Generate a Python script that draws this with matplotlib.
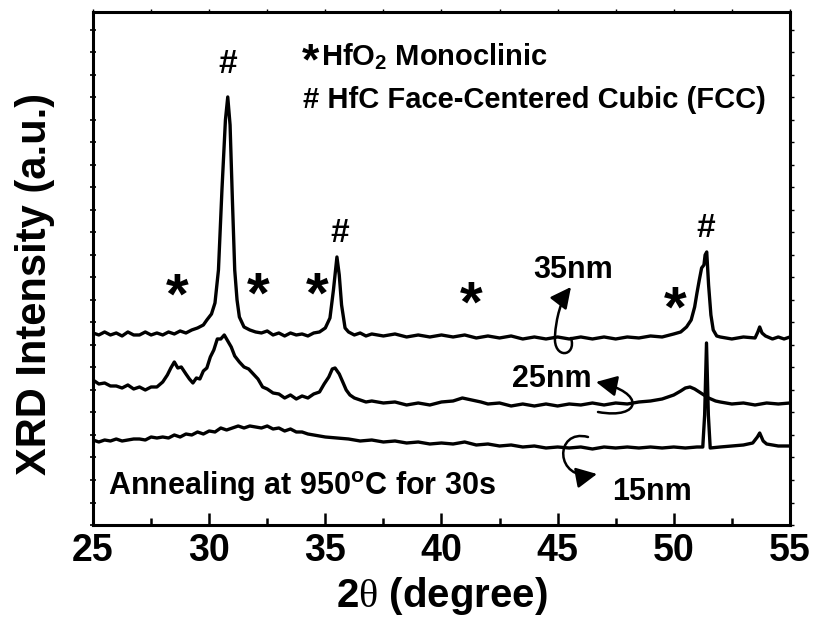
import matplotlib
matplotlib.use("Agg")
import matplotlib.pyplot as plt
from matplotlib.path import Path
from matplotlib.patches import FancyArrowPatch
from matplotlib.ticker import MultipleLocator

plt.rcParams["font.family"] = ["Liberation Sans", "DejaVu Sans"]
plt.rcParams["font.weight"] = "bold"
plt.rcParams["axes.labelweight"] = "bold"
plt.rcParams["mathtext.fontset"] = "custom"
plt.rcParams["mathtext.rm"] = "Liberation Sans:bold"
plt.rcParams["mathtext.bf"] = "Liberation Sans:bold"
plt.rcParams["mathtext.it"] = "Liberation Sans:bold:italic"
plt.rcParams["mathtext.sf"] = "Liberation Serif:normal"

# ---- XRD patterns (2theta in degree, intensity in a.u., stacked) ----
tt_35 = [25.0, 25.25, 25.5, 25.75, 26.0, 26.25, 26.5, 26.75, 27.0, 27.25, 27.5, 27.75,
         28.0, 28.25, 28.5, 28.75, 29.0, 29.25, 29.5, 29.75, 29.9, 30.1, 30.25, 30.4,
         30.55, 30.7, 30.8, 30.9, 31.0, 31.1, 31.2, 31.3, 31.5, 31.75, 32.0, 32.25,
         32.5, 32.75, 33.0, 33.25, 33.5, 33.75, 34.0, 34.25, 34.5, 34.75, 35.0, 35.2,
         35.35, 35.5, 35.6, 35.7, 35.85, 36.0, 36.25, 36.5, 36.75, 37.0, 37.5, 38.0,
         38.5, 39.0, 39.5, 40.0, 40.5, 41.0, 41.5, 42.0, 42.5, 43.0, 43.5, 44.0, 44.5,
         45.0, 45.5, 46.0, 46.5, 47.0, 47.5, 48.0, 48.5, 49.0, 49.5, 50.0, 50.3, 50.55,
         50.75, 50.9, 51.0, 51.1, 51.2, 51.3, 51.35, 51.42, 51.5, 51.6, 51.7, 51.85,
         52.0, 52.5, 53.0, 53.5, 53.62, 53.7, 53.8, 53.95, 54.25, 54.5, 54.75, 55.0]
int_35 = [192, 190, 193, 190, 192, 189, 193, 190, 190, 193, 190, 192,
          190, 193, 191, 194, 192, 195, 197, 200, 205, 211, 222, 255,
          335, 405, 428, 400, 325, 255, 225, 208, 198, 195, 193, 192,
          194, 190, 192, 189, 192, 190, 191, 189, 192, 193, 197, 207,
          235, 268, 250, 220, 197, 193, 190, 192, 189, 191, 189, 191,
          188, 190, 188, 190, 188, 190, 187, 189, 187, 189, 186, 188, 186,
          188, 186, 188, 186, 188, 186, 188, 187, 189, 188, 191, 193, 198,
          205, 218, 232, 245, 257, 260, 270, 273, 240, 210, 195, 189,
          188, 186, 188, 187, 193, 198, 192, 189, 186, 188, 186, 188]

tt_25 = [25.0, 25.25, 25.5, 25.75, 26.0, 26.25, 26.5, 26.75, 27.0, 27.25, 27.5, 27.75,
         28.0, 28.2, 28.35, 28.5, 28.65, 28.8, 29.0, 29.15, 29.3, 29.45, 29.6, 29.75,
         29.9, 30.05, 30.2, 30.35, 30.5, 30.65, 30.8, 30.95, 31.1, 31.3, 31.5, 31.7,
         31.9, 32.1, 32.3, 32.5, 32.75, 33.0, 33.25, 33.5, 33.75, 34.0, 34.25, 34.5,
         34.75, 34.95, 35.15, 35.3, 35.42, 35.6, 35.77, 35.9, 36.06, 36.25, 36.5, 36.75,
         37.0, 37.5, 38.0, 38.5, 39.0, 39.5, 40.0, 40.5, 40.9, 41.3, 41.7, 42.0, 42.5,
         43.0, 43.5, 44.0, 44.5, 45.0, 45.5, 46.0, 46.5, 47.0, 47.5, 48.0, 48.5, 49.0,
         49.5, 50.0, 50.3, 50.5, 50.7, 50.9, 51.1, 51.3, 51.5, 51.8, 52.0, 52.5, 53.0,
         53.5, 54.0, 54.5, 55.0]
int_25 = [145, 141, 142, 139, 139, 137, 140, 136, 138, 135, 138, 138,
          143, 150, 157, 163, 157, 158, 151, 146, 142, 147, 146, 154,
          157, 168, 175, 186, 186, 190, 184, 178, 169, 163, 158, 156,
          151, 146, 138, 136, 132, 131, 127, 130, 126, 129, 127, 131,
          133, 141, 148, 156, 157, 151, 142, 135, 130, 127, 125, 123,
          124, 122, 123, 120, 122, 120, 123, 124, 127, 125, 123, 121, 122,
          119, 121, 119, 121, 119, 121, 120, 122, 120, 122, 121, 123, 124,
          126, 130, 134, 137, 138, 136, 133, 130, 127, 124, 123, 121, 122,
          120, 122, 121, 122]

tt_15 = [25.0, 25.25, 25.5, 25.75, 26.0, 26.25, 26.5, 26.75, 27.0, 27.25, 27.5, 27.75,
         28.0, 28.25, 28.5, 28.75, 29.0, 29.25, 29.5, 29.75, 30.0, 30.25, 30.5, 30.75,
         31.0, 31.25, 31.5, 31.75, 32.0, 32.25, 32.5, 32.75, 33.0, 33.25, 33.5, 33.75,
         34.0, 34.25, 34.5, 34.75, 35.0, 35.5, 36.0, 36.5, 37.0, 37.5, 38.0, 38.5, 39.0,
         39.5, 40.0, 40.5, 41.0, 41.5, 42.0, 42.5, 43.0, 43.5, 44.0, 44.5, 45.0, 45.5,
         46.0, 46.5, 47.0, 47.5, 48.0, 48.5, 49.0, 49.5, 50.0, 50.5, 51.0, 51.25, 51.33,
         51.41, 51.49, 51.57, 52.0, 52.5, 53.0, 53.4, 53.6, 53.7, 53.85, 54.0, 54.5, 55.0]
int_15 = [85, 83, 85, 84, 86, 84, 85, 86, 86, 85, 88, 87,
          88, 87, 90, 88, 91, 90, 93, 91, 94, 93, 97, 95,
          97, 99, 97, 99, 98, 97, 99, 96, 97, 94, 96, 93,
          93, 91, 90, 89, 88, 87, 86, 84, 85, 83, 84, 82, 83,
          81, 82, 81, 83, 80, 81, 79, 80, 78, 79, 77, 78, 77,
          78, 76, 78, 77, 78, 77, 78, 77, 78, 77, 78, 78, 110,
          182, 110, 77, 78, 79, 80, 82, 88, 92, 84, 81, 79, 79]

tick_pos = [25, 30, 35, 40, 45, 50, 55]
tick_lbl = ["25", "30", "35", "40", "45", "50", "55"]

fig = plt.figure(figsize=(8.16, 6.28), dpi=100)
ax = fig.add_axes([0.114, 0.164, 0.854, 0.817])

lw = 2.4
for tt, it in ((tt_35, int_35), (tt_25, int_25), (tt_15, int_15)):
    ax.plot(tt, it, color="black", lw=lw, solid_joinstyle="round")

ax.set_xlim(25, 55)
ax.set_ylim(0, 513)
ax.set_xticks(tick_pos)
ax.set_xticklabels(tick_lbl)
ax.xaxis.set_minor_locator(MultipleLocator(2.5))
ax.yaxis.set_major_locator(MultipleLocator(22.5))
ax.tick_params(axis="x", which="major", direction="in", length=8.5, width=1.8,
               labelsize=27, pad=6)
ax.tick_params(axis="x", which="minor", direction="in", length=5, width=1.8)
ax.tick_params(axis="y", which="major", direction="inout", length=4, width=1.2,
               labelleft=False)
for sp in ax.spines.values():
    sp.set_linewidth(2.2)

# faint ticks on the top and right frame
top = ax.secondary_xaxis("top")
top.set_xticks([25 + 2.5 * k for k in range(13)])
top.tick_params(direction="out", length=2, width=1.0, labeltop=False)
top.spines["top"].set_visible(False)
right = ax.secondary_yaxis("right")
right.yaxis.set_major_locator(MultipleLocator(22.5))
right.tick_params(direction="out", length=3, width=1.0, labelright=False)
right.spines["right"].set_visible(False)

ax.set_xlabel(r"2$\mathsf{\theta}$ (degree)", fontsize=29, labelpad=4)
ax.set_ylabel("XRD Intensity (a.u.)", fontsize=30)
ax.yaxis.set_label_coords(-0.055, 0.47)

# phase markers
for x, y in ((30.81, 452), (35.62, 283), (51.36, 288)):
    ax.text(x, y, "#", fontsize=24, ha="center", va="baseline")
for x, y in ((28.62, 226), (32.1, 227), (34.64, 227), (41.3, 218), (50.05, 213)):
    ax.text(x, y, "*", fontsize=42, ha="center", va="center")

# phase key
ax.text(34.38, 451, "*", fontsize=32, ha="center", va="baseline")
ax.text(34.8, 460, r"HfO$_2$ Monoclinic", fontsize=21, ha="left", va="baseline")
ax.text(34.04, 417, "# HfC Face-Centered Cubic (FCC)", fontsize=21,
        ha="left", va="baseline")
ax.text(25.65, 30, r"Annealing at 950$^\mathrm{o}$C for 30s", fontsize=22,
        ha="left", va="baseline")

ax.text(43.94, 247, "35nm", fontsize=22, ha="left", va="baseline")
ax.text(43.04, 138, "25nm", fontsize=22, ha="left", va="baseline")
ax.text(47.34, 25, "15nm", fontsize=22, ha="left", va="baseline")


def px(xp, yp):
    return 25 + (xp - 93) / 23.23, 525 - yp


def curly(points, codes):
    verts = [px(*p) for p in points]
    arr = FancyArrowPatch(path=Path(verts, codes),
                          arrowstyle="-|>,head_length=0.9,head_width=0.45",
                          mutation_scale=14, color="black", lw=1.8,
                          transform=ax.transData)
    ax.add_patch(arr)


C4 = Path.CURVE4
curly([(571, 338), (577, 357), (553, 360), (555, 336),
       (556, 318), (561, 300), (571, 287)],
      [Path.MOVETO, C4, C4, C4, C4, C4, C4])
curly([(598, 412), (642, 420), (646, 392), (596, 382)],
      [Path.MOVETO, C4, C4, C4])
curly([(588, 437), (554, 428), (554, 482), (597, 474)],
      [Path.MOVETO, C4, C4, C4])

fig.savefig("out.png", dpi=100)
